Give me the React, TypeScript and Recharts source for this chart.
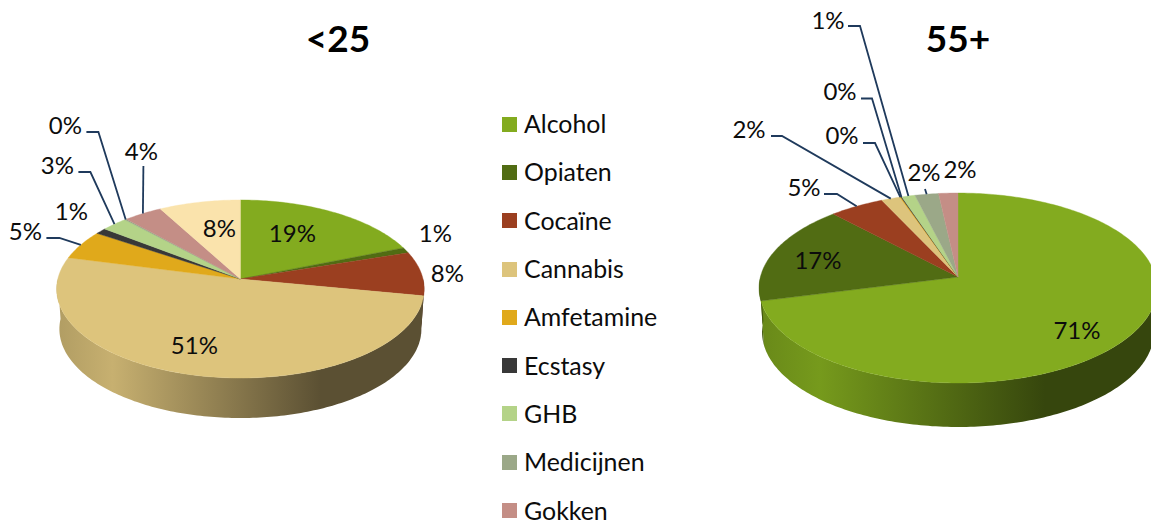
import React from "react";
import { PieChart, Pie, Legend } from "recharts";

const categories = ["Alcohol", "Opiaten", "Cocaïne", "Cannabis", "Amfetamine", "Ecstasy", "GHB", "Medicijnen", "Gokken", ""];
const under25 = [19, 1, 8, 51, 5.3, 1.1, 2.6, 0.2, 3.8, 8];
const over55 = [71, 17, 5, 1.7, 0.1, 0.1, 1.2, 2.15, 1.75];
const colors = ["#83AB1F", "#516C13", "#9B3F20", "#DDC47C", "#E0A91B", "#383838", "#B4D388", "#9BA888", "#C48E86", "#FAE3AC"];
const titles = ["<25", "55+"];

const FONT = "Lato, 'Open Sans', sans-serif";
const INK = "#0c0c0c";
const LEADER = "#1F3A5C";

type Geo = { id: string; cx: number; cy: number; R: number; H: number; k: number; depth: number; shrink: number };
const leftGeo: Geo = { id: "a", cx: 240.4, cy: 279, R: 182.6, H: 87.9, k: 0.1124, depth: 40, shrink: 0.985 };
const rightGeo: Geo = { id: "b", cx: 958, cy: 277, R: 197.6, H: 93.7, k: 0.1158, depth: 44, shrink: 0.985 };

// Label placement, as offsets from each pie's centre: text centre, then leader waypoints.
type Place = { t: [number, number]; via?: [number, number][] };
const leftPlaces: Place[] = [
  { t: [52, -47] },
  { t: [195, -47] },
  { t: [207, -7] },
  { t: [-46, 65] },
  { t: [-215, -49], via: [[-194, -41], [-181, -41]] },
  { t: [-169, -69] },
  { t: [-183, -115], via: [[-162, -107], [-150, -107]] },
  { t: [-175, -155], via: [[-154, -147], [-142, -147]] },
  { t: [-99, -129], via: [[-97, -113]] },
  { t: [-21, -52] },
];
const rightPlaces: Place[] = [
  { t: [119, 52] },
  { t: [-140, -18] },
  { t: [-154, -91], via: [[-134, -83], [-121, -83]] },
  { t: [-209, -149], via: [[-187, -141], [-176, -141]] },
  { t: [-116, -143], via: [[-95, -134], [-83, -134]] },
  { t: [-118, -187], via: [[-97, -178.5], [-86, -178.5]] },
  { t: [-130, -258], via: [[-110, -251], [-98, -251]] },
  { t: [-34, -106], via: [[-33, -88]] },
  { t: [2, -109] },
];

const toRows = (values: number[]) =>
  values.map((value, i) => ({ name: categories[i], value, fill: colors[i] }));

const rim = (g: Geo, t: number) => {
  const r = (t * Math.PI) / 180;
  const X = Math.sin(r);
  const Y = Math.cos(r);
  const s = 1 / (1 + g.k * Y);
  return { x: g.cx + g.R * X * s, y: g.cy - g.H * Y * s };
};

const arcPoints = (g: Geo, t1: number, t2: number) => {
  const n = Math.max(2, Math.ceil(Math.abs(t2 - t1)));
  const pts: { x: number; y: number }[] = [];
  for (let i = 0; i <= n; i++) pts.push(rim(g, t1 + ((t2 - t1) * i) / n));
  return pts;
};

const toPath = (pts: { x: number; y: number }[]) =>
  "M" + pts.map((p) => `${p.x.toFixed(2)},${p.y.toFixed(2)}`).join("L") + "Z";

const shade = (hex: string, f: number) => {
  const n = parseInt(hex.slice(1), 16);
  const c = (v: number) => Math.round(v * f);
  return `rgb(${c((n >> 16) & 255)},${c((n >> 8) & 255)},${c(n & 255)})`;
};

const topShape = (g: Geo) => (props: any) => {
  const pts = arcPoints(g, 90 - props.startAngle, 90 - props.endAngle);
  const d = toPath([{ x: g.cx, y: g.cy }, ...pts]);
  return <path d={d} fill={props.fill} stroke={props.fill} strokeWidth={0.4} />;
};

const wallShape = (g: Geo) => (props: any) => {
  const t1 = Math.max(90 - props.startAngle, 90);
  const t2 = Math.min(90 - props.endAngle, 270);
  if (t2 <= t1) return <g />;
  const top = arcPoints(g, t1, t2);
  const bottom = top
    .map((p) => ({ x: g.cx + (p.x - g.cx) * g.shrink, y: p.y + g.depth }))
    .reverse();
  const id = `wall-${g.id}-${props.fill.slice(1)}`;
  return (
    <g>
      <defs>
        <linearGradient id={id} gradientUnits="userSpaceOnUse" x1={g.cx - g.R} x2={g.cx + g.R} y1={0} y2={0}>
          <stop offset="0" stopColor={shade(props.fill, 0.8)} />
          <stop offset="0.15" stopColor={shade(props.fill, 0.9)} />
          <stop offset="0.72" stopColor={shade(props.fill, 0.41)} />
          <stop offset="1" stopColor={shade(props.fill, 0.41)} />
        </linearGradient>
      </defs>
      <path d={toPath([...top, ...bottom])} fill={`url(#${id})`} />
    </g>
  );
};

const labelFor = (g: Geo, places: Place[]) => (props: any) => {
  const place = places[props.index];
  if (!place) return null;
  const anchor = rim(g, 90 - props.midAngle);
  const via = place.via ?? [];
  const points = [...via.map(([dx, dy]) => `${g.cx + dx},${g.cy + dy}`), `${anchor.x},${anchor.y}`].join(" ");
  return (
    <g>
      {via.length > 0 && <polyline points={points} fill="none" stroke={LEADER} strokeWidth={1.8} />}
      <text
        x={g.cx + place.t[0]}
        y={g.cy + place.t[1]}
        textAnchor="middle"
        dominantBaseline="central"
        fontFamily={FONT}
        fontSize={24}
        fill={INK}
      >
        {`${Math.round(props.value)}%`}
      </text>
    </g>
  );
};

const LegendList = ({ payload }: any) => (
  <div style={{ fontFamily: FONT, fontSize: 24.9, color: INK }}>
    {(payload ?? [])
      .filter((p: any) => p.value && p.type !== "none")
      .map((p: any) => (
        <div key={p.value} style={{ height: 48.3, display: "flex", alignItems: "center" }}>
          <span style={{ width: 15, height: 15, background: p.color, marginRight: 7, flex: "none" }} />
          <span style={{ lineHeight: "22px", position: "relative", top: -1 }}>{p.value}</span>
        </div>
      ))}
  </div>
);

const titleStyle = (x: number): React.CSSProperties => ({
  position: "absolute",
  left: x - 60,
  top: 15,
  width: 120,
  textAlign: "center",
  fontFamily: FONT,
  fontWeight: 700,
  fontSize: 37,
  lineHeight: "46px",
  color: "#000",
});

export default function App() {
  const left = toRows(under25);
  const right = toRows(over55);
  const common = { dataKey: "value", nameKey: "name", startAngle: 90, endAngle: -270, isAnimationActive: false, stroke: "none" };
  return (
    <div style={{ position: "absolute", left: 0, top: 0, width: 1151, height: 522, overflow: "hidden", background: "#fff" }}>
      <PieChart width={1151} height={522} margin={{ top: 0, right: 0, bottom: 0, left: 0 }}>
        <Pie {...common} data={left} cx={leftGeo.cx} cy={leftGeo.cy} outerRadius={leftGeo.R} legendType="none" shape={wallShape(leftGeo)} />
        <Pie {...common} data={right} cx={rightGeo.cx} cy={rightGeo.cy} outerRadius={rightGeo.R} legendType="none" shape={wallShape(rightGeo)} />
        <Pie {...common} data={left} cx={leftGeo.cx} cy={leftGeo.cy} outerRadius={leftGeo.R} shape={topShape(leftGeo)} labelLine={false} label={labelFor(leftGeo, leftPlaces)} />
        <Pie {...common} data={right} cx={rightGeo.cx} cy={rightGeo.cy} outerRadius={rightGeo.R} legendType="none" shape={topShape(rightGeo)} labelLine={false} label={labelFor(rightGeo, rightPlaces)} />
        <Legend
          layout="vertical"
          itemSorter={null}
          content={<LegendList />}
          wrapperStyle={{ position: "absolute", left: 502, top: 100, width: 180, height: 422, bottom: "auto", right: "auto" }}
        />
      </PieChart>
      <div style={titleStyle(338)}>{titles[0]}</div>
      <div style={titleStyle(958)}>{titles[1]}</div>
    </div>
  );
}
